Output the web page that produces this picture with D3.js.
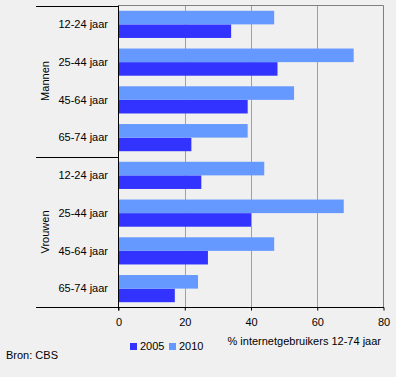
<!DOCTYPE html>
<html>
<head>
<meta charset="utf-8">
<script src="https://cdn.jsdelivr.net/npm/d3@7"></script>
<style>
  body { margin: 0; background: #f0f0f0; }
  svg { display: block; font-family: "Liberation Sans", Arial, sans-serif; }
</style>
</head>
<body>
<div id="chart"></div>
<script>
var groups = ["Mannen", "Vrouwen"];
var ages = ["12-24 jaar", "25-44 jaar", "45-64 jaar", "65-74 jaar"];
var years = ["2005", "2010"];
var mannen2005 = [34, 48, 39, 22];
var mannen2010 = [47, 71, 53, 39];
var vrouwen2005 = [25, 40, 27, 17];
var vrouwen2010 = [44, 68, 47, 24];
var xTicks = [0, 20, 40, 60, 80];
var xTitle = "% internetgebruikers 12-74 jaar";
var source = "Bron: CBS";

var colors = { "2005": "#3333ff", "2010": "#6699ff" };

var width = 396, height = 377;
var plot = { left: 118.5, right: 383.5, top: 5.5, bottom: 307.5 };

// rows: one per group/age combination
var rows = [];
groups.forEach(function (g, gi) {
    ages.forEach(function (a, ai) {
        var v05 = gi === 0 ? mannen2005[ai] : vrouwen2005[ai];
        var v10 = gi === 0 ? mannen2010[ai] : vrouwen2010[ai];
        rows.push({ key: g + "|" + a, group: g, age: a, values: { "2005": v05, "2010": v10 } });
    });
});

var svg = d3.select("#chart").append("svg")
    .attr("width", width)
    .attr("height", height);

var x = d3.scaleLinear().domain([0, 80]).range([plot.left, plot.right]);

var y = d3.scaleBand()
    .domain(rows.map(function (d) { return d.key; }))
    .range([plot.top, plot.bottom])
    .paddingInner(0.28)
    .paddingOuter(0.14);

var ySub = d3.scaleBand()
    .domain(["2010", "2005"])
    .range([0, y.bandwidth()]);

// gridlines
svg.append("g")
    .selectAll("line")
    .data(xTicks.filter(function (t) { return t > 0 && t < 80; }))
    .join("line")
    .attr("x1", function (d) { return Math.round(x(d)) + 0.5; })
    .attr("x2", function (d) { return Math.round(x(d)) + 0.5; })
    .attr("y1", plot.top)
    .attr("y2", plot.bottom)
    .attr("stroke", "#a0a0a0");

// top and right border
svg.append("path")
    .attr("d", "M" + plot.left + "," + plot.top + "H" + plot.right + "V" + plot.bottom)
    .attr("fill", "none")
    .attr("stroke", "#808080");

// bars
var rowG = svg.append("g")
    .selectAll("g")
    .data(rows)
    .join("g")
    .attr("transform", function (d) { return "translate(0," + y(d.key) + ")"; });

rowG.selectAll("rect")
    .data(function (d) { return years.map(function (yr) { return { year: yr, value: d.values[yr] }; }); })
    .join("rect")
    .attr("x", x(0))
    .attr("y", function (d) { return ySub(d.year); })
    .attr("width", function (d) { return x(d.value) - x(0); })
    .attr("height", ySub.bandwidth())
    .attr("fill", function (d) { return colors[d.year]; });

// bottom axis
var xAxis = svg.append("g")
    .attr("transform", "translate(0," + plot.bottom + ")")
    .call(d3.axisBottom(x).tickValues(xTicks).tickSize(3).tickPadding(8).tickFormat(d3.format("d")));
xAxis.select(".domain").remove();
xAxis.selectAll("line").attr("stroke", "#000");
xAxis.selectAll("text")
    .attr("font-size", 11)
    .attr("font-family", "Liberation Sans, Arial, sans-serif")
    .attr("fill", "#000");

svg.append("line")
    .attr("x1", 36).attr("x2", plot.right + 0.5)
    .attr("y1", plot.bottom).attr("y2", plot.bottom)
    .attr("stroke", "#000");

// left axis line
svg.append("line")
    .attr("x1", plot.left).attr("x2", plot.left)
    .attr("y1", plot.top).attr("y2", plot.bottom + 3)
    .attr("stroke", "#000");

// group separators
var groupEdges = [plot.top, (plot.top + plot.bottom) / 2];
svg.append("g")
    .selectAll("line")
    .data(groupEdges)
    .join("line")
    .attr("x1", 36).attr("x2", plot.left)
    .attr("y1", function (d) { return Math.round(d) + 0.5; })
    .attr("y2", function (d) { return Math.round(d) + 0.5; })
    .attr("stroke", "#000");

// age labels
svg.append("g")
    .selectAll("text")
    .data(rows)
    .join("text")
    .attr("x", 108)
    .attr("y", function (d) { return y(d.key) + y.bandwidth() / 2; })
    .attr("dy", "0.35em")
    .attr("text-anchor", "end")
    .attr("font-size", 11)
    .text(function (d) { return d.age; });

// group labels
svg.append("g")
    .selectAll("text")
    .data(groups)
    .join("text")
    .attr("transform", function (g) {
        var gRows = rows.filter(function (r) { return r.group === g; });
        var y0 = y(gRows[0].key), y1 = y(gRows[gRows.length - 1].key) + y.bandwidth();
        return "translate(45," + ((y0 + y1) / 2) + ") rotate(-90)";
    })
    .attr("dy", "0.35em")
    .attr("text-anchor", "middle")
    .attr("font-size", 11)
    .text(function (g) { return g; });

// axis title
svg.append("text")
    .attr("x", 381)
    .attr("y", 345)
    .attr("text-anchor", "end")
    .attr("font-size", 11)
    .text(xTitle);

// legend
var legend = svg.append("g")
    .selectAll("g")
    .data(years)
    .join("g")
    .attr("transform", function (d, i) { return "translate(" + (130 + i * 39) + ",343)"; });
legend.append("rect")
    .attr("width", 7).attr("height", 7)
    .attr("fill", function (d) { return colors[d]; });
legend.append("text")
    .attr("x", 10).attr("y", 3.5)
    .attr("dy", "0.35em")
    .attr("font-size", 11)
    .text(function (d) { return d; });

// source
svg.append("text")
    .attr("x", 6)
    .attr("y", 359)
    .attr("font-size", 11)
    .text(source);
</script>
</body>
</html>
